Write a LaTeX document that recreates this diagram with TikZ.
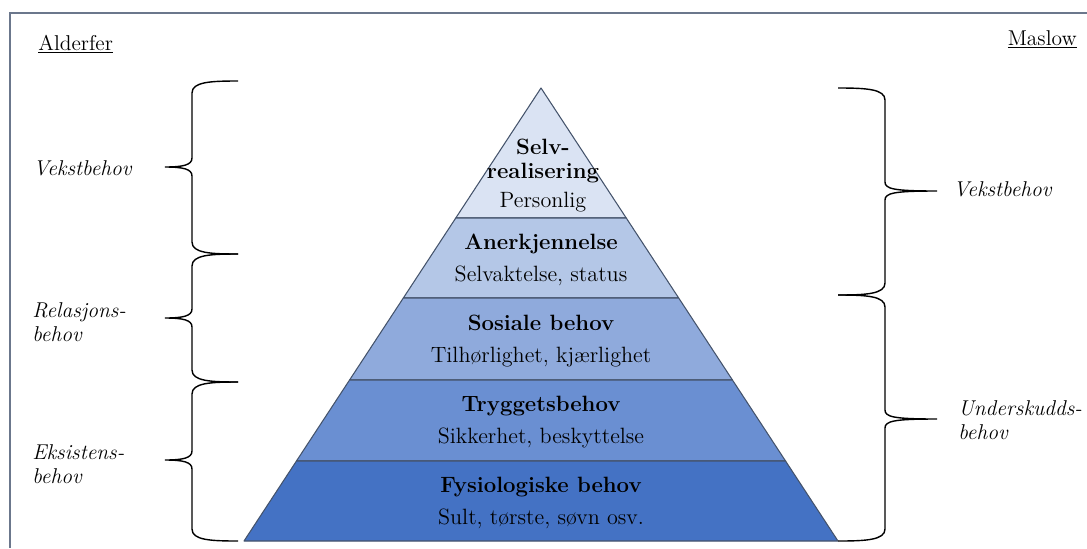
\documentclass[tikz,border=0pt]{standalone}
\usepackage{fontspec}
\usetikzlibrary{calc}
\definecolor{lvlA}{HTML}{DAE3F3}
\definecolor{lvlB}{HTML}{B4C7E7}
\definecolor{lvlC}{HTML}{8FAADC}
\definecolor{lvlD}{HTML}{6A8FD2}
\definecolor{lvlE}{HTML}{4472C4}
\definecolor{edgegray}{HTML}{44536B}
\definecolor{framegray}{HTML}{6B778C}
% curly brackets, given in pixel rows: top, tip, bottom
\newcommand{\curlyleft}[3]{%
  \draw[curly] (238,#1) .. controls (210,#1) and (192,#1+1) .. (192,#1+12)
    -- (192,#2-9) .. controls (192,#2-2) and (183,#2) .. (165,#2)
    .. controls (183,#2) and (192,#2+2) .. (192,#2+9)
    -- (192,#3-12) .. controls (192,#3-1) and (210,#3) .. (238,#3);}
\newcommand{\curlyright}[3]{%
  \draw[curly] (838,#1) .. controls (866,#1) and (885,#1+1) .. (885,#1+12)
    -- (885,#2-9) .. controls (885,#2-2) and (894,#2) .. (937,#2)
    .. controls (894,#2) and (885,#2+2) .. (885,#2+9)
    -- (885,#3-12) .. controls (885,#3-1) and (866,#3) .. (838,#3);}

\begin{document}
\begin{tikzpicture}[x=0.02cm, y=-0.02cm,
    layer/.style={draw=edgegray, line width=0.6pt, line join=round},
    lvltext/.style={font=\fontsize{12.6}{13.3}\selectfont, align=center, inner sep=0pt, yshift=-1.1pt},
    lbl/.style={font=\fontsize{12.2}{14}\selectfont\itshape, align=left, inner sep=0pt},
    head/.style={font=\fontsize{12.2}{14}\selectfont, inner sep=0pt},
    curly/.style={line width=0.8pt, black},
]
  \useasboundingbox (0,0) rectangle (1087,548);
  % frame
  \draw[framegray, line width=1.1pt] (1087,13) -- (10,13) -- (10,548);

  % pyramid
  \coordinate (apex) at (541,88);
  \coordinate (l5) at (244,541);
  \coordinate (r5) at (838,541);
  \foreach \n/\t in {1/0.287, 2/0.4636, 3/0.6446, 4/0.8234} {
    \coordinate (l\n) at ($(apex)!\t!(l5)$);
    \coordinate (r\n) at ($(apex)!\t!(r5)$);
  }
  \draw[layer, fill=lvlA] (apex) -- (r1) -- (l1) -- cycle;
  \draw[layer, fill=lvlB] (l1) -- (r1) -- (r2) -- (l2) -- cycle;
  \draw[layer, fill=lvlC] (l2) -- (r2) -- (r3) -- (l3) -- cycle;
  \draw[layer, fill=lvlD] (l3) -- (r3) -- (r4) -- (l4) -- cycle;
  \draw[layer, fill=lvlE] (l4) -- (r4) -- (r5) -- (l5) -- cycle;

  % layer centres
  \foreach \a/\b in {1/2, 2/3, 3/4, 4/5}
    \coordinate (c\a) at ($0.25*(l\a)+0.25*(r\a)+0.25*(l\b)+0.25*(r\b)$);

  \node[lvltext] (selv) at (543,174) {\textbf{Selv-}\\\textbf{realisering}\\[3.5pt]Personlig};
  \node[lvltext] (aner) at (c1) {\textbf{Anerkjennelse}\\[5pt]Selvaktelse, status};
  \node[lvltext] (sosial) at (c2) {\textbf{Sosiale behov}\\[5pt]Tilhørlighet, kjærlighet};
  \node[lvltext] (trygg) at (c3) {\textbf{Tryggetsbehov}\\[5pt]Sikkerhet, beskyttelse};
  \node[lvltext] (fysio) at (c4) {\textbf{Fysiologiske behov}\\[5pt]Sult, tørste, søvn osv.};

  % Alderfer side
  \node[head, anchor=base west] (alderfer) at (38,50) {\underline{Alderfer}};
  \curlyleft{81}{167}{254}
  \curlyleft{254}{318}{382}
  \curlyleft{382}{460}{541}
  \node[lbl, anchor=base west] (vekstA) at (33,175) {Vekstbehov};
  \node[lbl, anchor=west] (relasjon) at (32,322) {Relasjons-\\behov};
  \node[lbl, anchor=west] (eksist) at (32,464) {Eksistens-\\behov};

  % Maslow side
  \node[head, anchor=base east] (maslow) at (1077,45) {\underline{Maslow}};
  \curlyright{88}{191}{295}
  \curlyright{295}{419}{541}
  \node[lbl, anchor=base west] (vekstM) at (953,196) {Vekstbehov};
  \node[lbl, anchor=west] (undersk) at (958,420) {Underskudds-\\behov};
\end{tikzpicture}
\end{document}
